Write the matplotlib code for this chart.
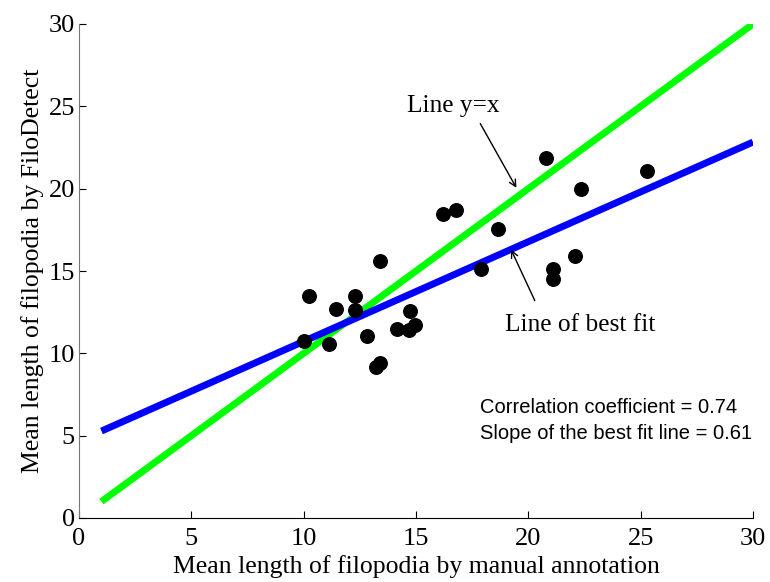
import matplotlib
matplotlib.use("Agg")
import matplotlib.pyplot as plt

# mean filopodia length: manual annotation (x) vs FiloDetect (y)
manual = [10.0, 10.24, 11.13, 11.44, 12.28, 12.28, 12.8, 13.22, 13.4, 13.4,
          14.15, 14.73, 14.7, 14.95, 16.2, 16.8, 17.9, 18.65, 20.8, 21.1,
          21.1, 22.07, 22.34, 25.3]
filodetect = [10.75, 13.48, 10.56, 12.69, 13.48, 12.63, 11.07, 9.17, 9.4, 15.6,
              11.48, 12.59, 11.4, 11.72, 18.46, 18.7, 15.1, 17.57, 21.88, 15.1,
              14.5, 15.9, 19.97, 21.09]

# reference line y = x and line of best fit
line_x = [1, 30]
ident_y = [1, 30]
fit_y = [5.28, 22.83]

corr = 0.74
slope = 0.61

SERIF = "Liberation Serif"
SANS = "Liberation Sans"

fig = plt.figure(figsize=(7.7, 5.82), dpi=100)
ax = fig.add_axes([79 / 770, 64 / 582, 674 / 770, 494 / 582])

ax.plot(line_x, ident_y, color="#00ff00", lw=5, solid_capstyle="butt", zorder=2)
ax.plot(line_x, fit_y, color="#0000ff", lw=5, solid_capstyle="butt", zorder=2)
ax.scatter(manual, filodetect, s=95, color="black", zorder=3)

ax.set_xlim(0, 30)
ax.set_ylim(0, 30)
ax.set_xticks(range(0, 31, 5))
ax.set_yticks(range(0, 31, 5))
ax.tick_params(direction="in", length=5, labelsize=19, pad=3)
ax.tick_params(axis="x", pad=7)
for lbl in ax.get_xticklabels() + ax.get_yticklabels():
    lbl.set_family(SERIF)
ax.spines["top"].set_visible(False)
ax.spines["right"].set_visible(False)
ax.spines["left"].set_color("#777777")

ax.set_xlabel("Mean length of filopodia by manual annotation",
              family=SERIF, fontsize=18.5, labelpad=4)
ax.set_ylabel("Mean length of filopodia by FiloDetect",
              family=SERIF, fontsize=18.5, labelpad=3)

arrow = dict(arrowstyle="->", color="black", lw=1, mutation_scale=12)
ax.annotate("", xy=(19.53, 19.9), xytext=(17.8, 24.1), arrowprops=arrow)
ax.text(14.6, 25.0, "Line y=x", family=SERIF, fontsize=18.3, va="center")
ax.annotate("", xy=(19.18, 16.45), xytext=(20.34, 13.05), arrowprops=arrow)
ax.text(18.95, 11.72, "Line of best fit", family=SERIF, fontsize=18.3, va="center")

ax.text(17.85, 6.7, f"Correlation coefficient = {corr}", family=SANS,
        fontsize=14.5, va="center")
ax.text(17.85, 5.12, f"Slope of the best fit line = {slope}", family=SANS,
        fontsize=14.5, va="center")

fig.savefig("out.png", dpi=100)
